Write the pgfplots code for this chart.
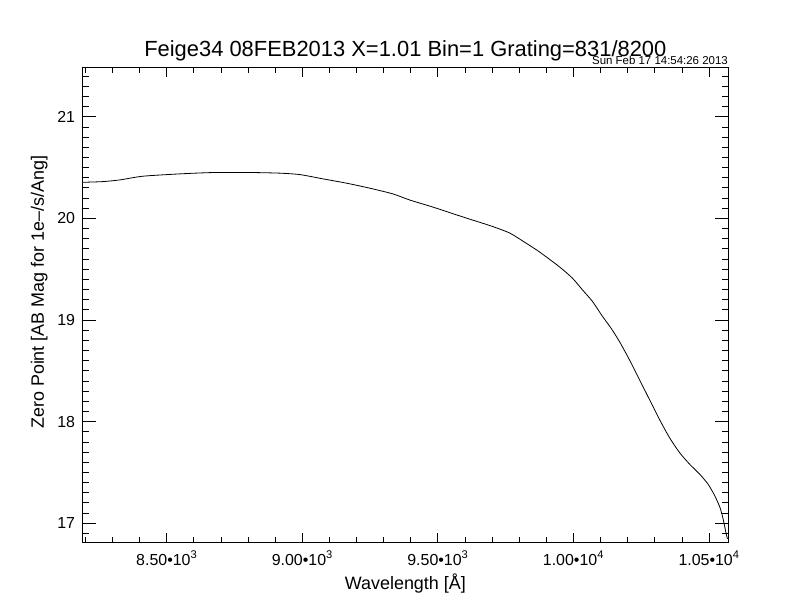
\documentclass[border=0pt]{standalone}
\usepackage{fontspec}
\setmainfont{Liberation Sans}
\usepackage{pgfplots}
\pgfplotsset{compat=1.18}

% zero point curve
\pgfplotstableread{
lam    zp
8190   20.355
8265   20.362
8328   20.379
8412   20.415
8549   20.438
8670   20.451
8818   20.451
8917   20.445
8991   20.431
9076   20.389
9164   20.346
9249   20.297
9334   20.241
9397   20.180
9483   20.110
9606   20.002
9692   19.929
9764   19.857
9820   19.765
9873   19.673
9947   19.526
9996   19.412
10033  19.297
10070  19.183
10107  19.036
10138  18.922
10169  18.791
10206  18.611
10243  18.415
10280  18.219
10317  18.023
10354  17.843
10391  17.696
10428  17.582
10465  17.484
10496  17.386
10521  17.271
10540  17.157
10552  17.042
10562  16.912
10568  16.846
}\zp

\pgfplotsset{
  frame/.style={
    scale only axis,
    width=645.3bp, height=474bp,
    at={(0,0)}, anchor=south west,
    xmin=8190, xmax=10570,
    ymin=16.815, ymax=21.48,
    clip=false,
    scaled x ticks=false,
    scaled y ticks=false,
    tick align=inside,
    tick style={black, line width=0.8bp},
  },
}

\begin{document}
\begin{tikzpicture}
\useasboundingbox (-82.7bp,-70bp) rectangle (709.3bp,542bp);

% box, y ticks, curve and texts
\begin{axis}[
    frame,
    axis line style={line width=1bp},
    xtick=\empty,
    ytick={17,18,19,20,21},
    minor ytick={16.9,17.1,17.2,...,17.9,18.1,18.2,...,18.9,19.1,19.2,...,19.9,20.1,20.2,...,20.9,21.1,21.2,...,21.4},
    major tick length=13bp,
    minor tick length=6.5bp,
    yticklabel style={font=\fontsize{16}{18}\selectfont, anchor=east, inner sep=0pt, xshift=-7.5bp},
    /pgf/number format/assume math mode=true,
]
\addplot[black, line width=0.8bp, smooth, tension=0.4] table[x=lam, y=zp] {\zp};
\node[anchor=base, font=\fontsize{22}{24}\selectfont] at ([yshift=11bp]rel axis cs:0.5,1)
  {Feige34 08FEB2013 X=1.01 Bin=1 Grating=831/8200};
\node[anchor=base east, inner sep=0pt, font=\fontsize{11.5}{12}\selectfont] at ([yshift=3bp]rel axis cs:1,1)
  {Sun Feb 17 14:54:26 2013};
\node[rotate=90, anchor=base, inner sep=0pt, font=\fontsize{18}{20}\selectfont] at ([xshift=-38.7bp]rel axis cs:0,0.527)
  {Zero Point [AB Mag for 1e--/s/Ang]};
\end{axis}

% x ticks (shorter in the original)
\begin{axis}[
    frame,
    axis line style={draw=none},
    ytick=\empty,
    xtick={8500,9000,9500,10000,10500},
    xticklabels={8.50•10\textsuperscript{3}, 9.00•10\textsuperscript{3}, 9.50•10\textsuperscript{3}, 1.00•10\textsuperscript{4}, 1.05•10\textsuperscript{4}},
    minor xtick={8200,8300,...,8400,8600,8700,...,8900,9100,9200,...,9400,9600,9700,...,9900,10100,10200,...,10400},
    major tick length=9.3bp,
    minor tick length=4.6bp,
    xticklabel style={font=\fontsize{16}{18}\selectfont, anchor=base, inner sep=0pt, yshift=-23bp},
]
\addplot[draw=none] coordinates {(8190,17) (10570,17)};
\node[anchor=base, inner sep=0pt, font=\fontsize{18}{20}\selectfont] at ([yshift=-47bp]rel axis cs:0.5,0)
  {Wavelength [Å]};
\end{axis}
\end{tikzpicture}
\end{document}
